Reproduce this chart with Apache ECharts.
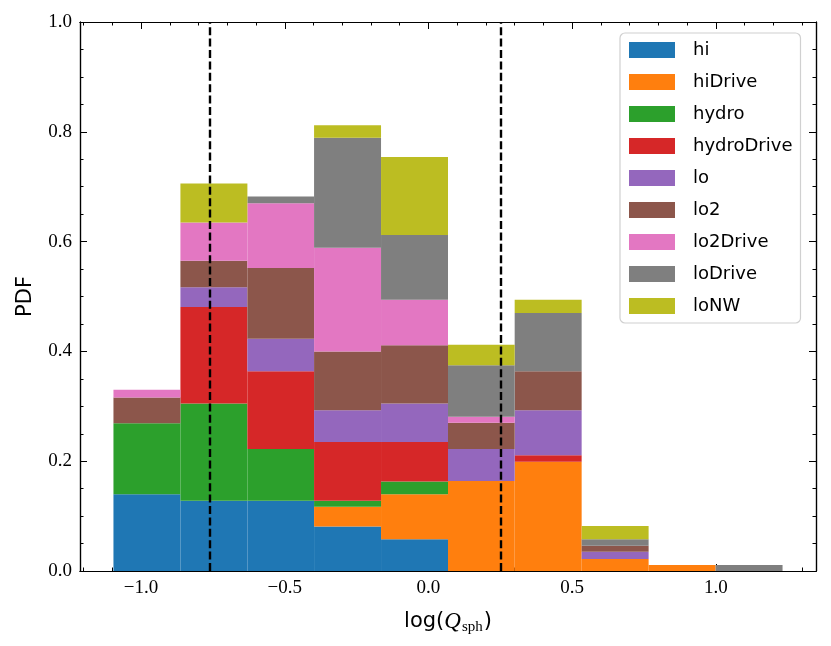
<!DOCTYPE html>
<html>
<head>
<meta charset="utf-8">
<script src="https://cdn.jsdelivr.net/npm/echarts@6/dist/echarts.min.js"></script>
<style>
  html, body { margin: 0; padding: 0; background: #fff; }
  #chart { width: 831px; height: 646px; }
</style>
</head>
<body>
<div id="chart"></div>
<script>
// bin edges of the stacked histogram
const binEdges = [-1.096, -0.863, -0.630, -0.398, -0.165, 0.068, 0.300, 0.533, 0.766, 0.999, 1.232]

// stacked segment heights per bin
const hi         = [0.140, 0.128, 0.128, 0.081, 0.058, 0, 0, 0, 0, 0]
const hiDrive    = [0, 0, 0, 0.036, 0.082, 0.164, 0.199, 0.022, 0.011, 0]
const hydro      = [0.129, 0.177, 0.094, 0.011, 0.023, 0, 0, 0, 0, 0]
const hydroDrive = [0, 0.176, 0.142, 0.107, 0.072, 0, 0.012, 0, 0, 0]
const lo         = [0, 0.036, 0.059, 0.058, 0.070, 0.058, 0.082, 0.013, 0, 0]
const lo2        = [0.047, 0.048, 0.129, 0.107, 0.106, 0.048, 0.071, 0.011, 0, 0]
const lo2Drive   = [0.014, 0.070, 0.118, 0.189, 0.083, 0.011, 0, 0, 0, 0]
const loDrive    = [0, 0, 0.012, 0.200, 0.118, 0.094, 0.106, 0.012, 0, 0.011]
const loNW       = [0, 0.071, 0, 0.023, 0.142, 0.037, 0.024, 0.024, 0, 0]

const seriesNames = ['hi', 'hiDrive', 'hydro', 'hydroDrive', 'lo', 'lo2', 'lo2Drive', 'loDrive', 'loNW']
const seriesValues = [hi, hiDrive, hydro, hydroDrive, lo, lo2, lo2Drive, loDrive, loNW]
const colors = ['#1f77b4', '#ff7f0e', '#2ca02c', '#d62728', '#9467bd', '#8c564b', '#e377c2', '#7f7f7f', '#bcbd22']

// dashed reference lines
const vLines = [-0.76, 0.254]

// ticks
const xTicks = [-1.0, -0.5, 0.0, 0.5, 1.0]
const xMinorTicks = [-1.2, -1.1, -0.9, -0.8, -0.7, -0.6, -0.4, -0.3, -0.2, -0.1, 0.1, 0.2, 0.3, 0.4, 0.6, 0.7, 0.8, 0.9, 1.1, 1.2, 1.3]
const yTicks = [0.0, 0.2, 0.4, 0.6, 0.8, 1.0]
const yMinorTicks = [0.05, 0.1, 0.15, 0.25, 0.3, 0.35, 0.45, 0.5, 0.55, 0.65, 0.7, 0.75, 0.85, 0.9, 0.95]

const xMin = -1.2124, xMax = 1.3484
const serif = 'Liberation Serif'
const sans = 'DejaVu Sans'

function fmtTick(v) {
  const s = Math.abs(v).toFixed(1)
  return v < -1e-9 ? '\u2212' + s : s
}

function xAxisDef(pos, ticks, len, withLabels) {
  return {
    type: 'value', position: pos, min: xMin, max: xMax,
    splitLine: { show: false },
    axisLine: { show: true, onZero: false, lineStyle: { color: '#000', width: 1.2 } },
    axisTick: { show: true, inside: true, length: len, customValues: ticks, lineStyle: { color: '#000', width: 1 } },
    axisLabel: withLabels ? {
      show: true, customValues: ticks, margin: 8, color: '#000',
      fontFamily: serif, fontSize: 19, formatter: fmtTick
    } : { show: false }
  }
}

function yAxisDef(pos, ticks, len, withLabels) {
  return {
    type: 'value', position: pos, min: 0, max: 1,
    splitLine: { show: false },
    axisLine: { show: true, onZero: false, lineStyle: { color: '#000', width: 1.2 } },
    axisTick: { show: true, inside: true, length: len, customValues: ticks, lineStyle: { color: '#000', width: 1 } },
    axisLabel: withLabels ? {
      show: true, customValues: ticks, margin: 8, color: '#000',
      fontFamily: serif, fontSize: 19, formatter: fmtTick
    } : { show: false }
  }
}

const xAxes = [
  xAxisDef('bottom', xTicks, 7, true),
  xAxisDef('bottom', xMinorTicks, 3.5, false),
  xAxisDef('top', xTicks, 7, false),
  xAxisDef('top', xMinorTicks, 3.5, false)
]
xAxes[0].name = '{a|log(}{q|Q}{s|sph}{a|)}'
xAxes[0].nameLocation = 'middle'
xAxes[0].nameGap = 37
xAxes[0].nameTextStyle = {
  color: '#000',
  rich: {
    a: { fontFamily: sans, fontSize: 21, color: '#000' },
    q: { fontFamily: serif, fontStyle: 'italic', fontSize: 23, color: '#000' },
    s: { fontFamily: serif, fontSize: 15, color: '#000', padding: [12, 1, 0, 1] }
  }
}

const yAxes = [
  yAxisDef('left', yTicks, 7, true),
  yAxisDef('left', yMinorTicks, 3.5, false),
  yAxisDef('right', yTicks, 7, false),
  yAxisDef('right', yMinorTicks, 3.5, false)
]
yAxes[0].name = 'PDF'
yAxes[0].nameLocation = 'middle'
yAxes[0].nameRotate = 90
yAxes[0].nameGap = 44
yAxes[0].nameTextStyle = { fontFamily: sans, fontSize: 21, color: '#000' }

// running bottoms for the stack
const base = binEdges.slice(1).map(() => 0)
const series = seriesNames.map((name, k) => {
  const vals = seriesValues[k]
  const data = vals.map((v, i) => {
    const item = [binEdges[i], binEdges[i + 1], base[i], base[i] + v]
    base[i] += v
    return item
  })
  return {
    name: name,
    type: 'custom',
    coordinateSystem: 'cartesian2d',
    xAxisIndex: 0,
    yAxisIndex: 0,
    itemStyle: { color: colors[k] },
    encode: { x: [0, 1], y: [2, 3] },
    data: data,
    renderItem: function (params, api) {
      const y0 = api.value(2), y1 = api.value(3)
      if (y1 - y0 <= 0) return null
      const p0 = api.coord([api.value(0), y1])
      const p1 = api.coord([api.value(1), y0])
      return {
        type: 'rect',
        shape: { x: p0[0], y: p0[1], width: p1[0] - p0[0], height: p1[1] - p0[1] },
        style: { fill: colors[k] }
      }
    }
  }
})

series.push({
  name: 'vlines',
  type: 'line',
  xAxisIndex: 0,
  yAxisIndex: 0,
  data: [],
  silent: true,
  markLine: {
    silent: true,
    symbol: ['none', 'none'],
    label: { show: false },
    lineStyle: { color: '#000', width: 2.4, type: [8, 3.4] },
    data: vLines.map(v => ({ xAxis: v }))
  },
  z: 10
})

const chart = echarts.init(document.getElementById('chart'), null, { renderer: 'canvas' })
chart.setOption({
  animation: false,
  backgroundColor: '#fff',
  grid: { left: 80, right: 15, top: 22, bottom: 75, containLabel: false },
  legend: {
    data: seriesNames,
    orient: 'vertical',
    left: 620,
    top: 33,
    itemWidth: 46,
    itemHeight: 16,
    itemGap: 14,
    padding: [8, 8, 8, 9],
    icon: 'rect',
    borderColor: '#d0d0d0',
    borderWidth: 1.2,
    borderRadius: 5,
    backgroundColor: 'rgba(255,255,255,0.85)',
    textStyle: { fontFamily: sans, fontSize: 18, color: '#000', padding: [0, 0, 0, 13] }
  },
  xAxis: xAxes,
  yAxis: yAxes,
  series: series
})
</script>
</body>
</html>
